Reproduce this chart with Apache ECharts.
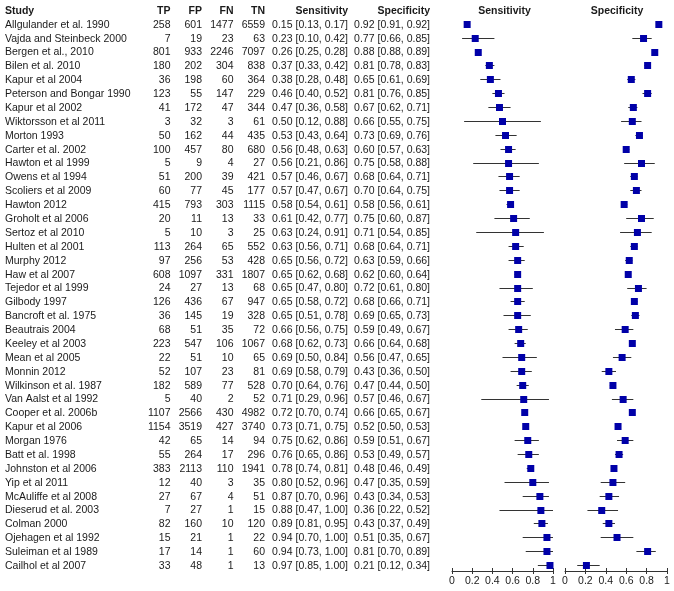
<!DOCTYPE html>
<html><head><meta charset="utf-8">
<script src="https://cdn.jsdelivr.net/npm/echarts@6/dist/echarts.min.js"></script>
<style>html,body{margin:0;padding:0;background:#fff}#c{width:674px;height:591px}</style>
</head><body><div id="c"></div>
<script>
const studies = ['Allgulander et al. 1990','Vajda and Steinbeck 2000','Bergen et al., 2010','Bilen et al. 2010','Kapur et al 2004','Peterson and Bongar 1990','Kapur et al 2002','Wiktorsson et al 2011','Morton 1993','Carter et al. 2002','Hawton et al 1999','Owens et al 1994','Scoliers et al 2009','Hawton 2012','Groholt et al 2006','Sertoz et al 2010','Hulten et al 2001','Murphy 2012','Haw et al 2007','Tejedor et al 1999','Gilbody 1997','Bancroft et al. 1975','Beautrais 2004','Keeley et al 2003','Mean et al 2005','Monnin 2012','Wilkinson et al. 1987','Van Aalst et al 1992','Cooper et al. 2006b','Kapur et al 2006','Morgan 1976','Batt et al. 1998','Johnston et al 2006','Yip et al 2011','McAuliffe et al 2008','Dieserud et al. 2003','Colman 2000','Ojehagen et al 1992','Suleiman et al 1989','Cailhol et al 2007'];
const tp = [258,7,801,180,36,123,41,3,50,100,5,51,60,415,20,5,113,97,608,24,126,36,68,223,22,52,182,5,1107,1154,42,55,383,12,27,7,82,15,17,33];
const fp = [601,19,933,202,198,55,172,32,162,457,9,200,77,793,11,10,264,256,1097,27,436,145,51,547,51,107,589,40,2566,3519,65,264,2113,40,67,27,160,21,14,48];
const fn = [1477,23,2246,304,60,147,47,3,44,80,4,39,45,303,13,3,65,53,331,13,67,19,35,106,10,23,77,2,430,427,14,17,110,3,4,1,10,1,1,1];
const tn = [6559,63,7097,838,364,229,344,61,435,680,27,421,177,1115,33,25,552,428,1807,68,947,328,72,1067,65,81,528,52,4982,3740,94,296,1941,35,51,15,120,22,60,13];
const sens = [0.15,0.23,0.26,0.37,0.38,0.46,0.47,0.50,0.53,0.56,0.56,0.57,0.57,0.58,0.61,0.63,0.63,0.65,0.65,0.65,0.65,0.65,0.66,0.68,0.69,0.69,0.70,0.71,0.72,0.73,0.75,0.76,0.78,0.80,0.87,0.88,0.89,0.94,0.94,0.97];
const sensLo = [0.13,0.10,0.25,0.33,0.28,0.40,0.36,0.12,0.43,0.48,0.21,0.46,0.47,0.54,0.42,0.24,0.56,0.56,0.62,0.47,0.58,0.51,0.56,0.62,0.50,0.58,0.64,0.29,0.70,0.71,0.62,0.65,0.74,0.52,0.70,0.47,0.81,0.70,0.73,0.85];
const sensHi = [0.17,0.42,0.28,0.42,0.48,0.52,0.58,0.88,0.64,0.63,0.86,0.67,0.67,0.61,0.77,0.91,0.71,0.72,0.68,0.80,0.72,0.78,0.75,0.73,0.84,0.79,0.76,0.96,0.74,0.75,0.86,0.86,0.81,0.96,0.96,1.00,0.95,1.00,1.00,1.00];
const spec = [0.92,0.77,0.88,0.81,0.65,0.81,0.67,0.66,0.73,0.60,0.75,0.68,0.70,0.58,0.75,0.71,0.68,0.63,0.62,0.72,0.68,0.69,0.59,0.66,0.56,0.43,0.47,0.57,0.66,0.52,0.59,0.53,0.48,0.47,0.43,0.36,0.43,0.51,0.81,0.21];
const specLo = [0.91,0.66,0.88,0.78,0.61,0.76,0.62,0.55,0.69,0.57,0.58,0.64,0.64,0.56,0.60,0.54,0.64,0.59,0.60,0.61,0.66,0.65,0.49,0.64,0.47,0.36,0.44,0.46,0.65,0.50,0.51,0.49,0.46,0.35,0.34,0.22,0.37,0.35,0.70,0.12];
const specHi = [0.92,0.85,0.89,0.83,0.69,0.85,0.71,0.75,0.76,0.63,0.88,0.71,0.75,0.61,0.87,0.85,0.71,0.66,0.64,0.80,0.71,0.73,0.67,0.68,0.65,0.50,0.50,0.67,0.67,0.53,0.67,0.57,0.49,0.59,0.53,0.52,0.49,0.67,0.89,0.34];
const countCols = ['TP','FP','FN','TN'];
const ciCols = ['Sensitivity','Specificity'];
const axisTicks = ['0','0.2','0.4','0.6','0.8','1'];

const FONT = '"Liberation Sans", Arial, sans-serif';
const FS = 10.5;
const TXT = '#1a1a1a';
const rows = ['Study'].concat(studies);

const countTexts = [], countData = [];
countCols.forEach((h, c) => { countData.push([c, 0]); countTexts.push({t: h, b: true}); });
[tp, fp, fn, tn].forEach((arr, c) => arr.forEach((v, i) => { countData.push([c, i + 1]); countTexts.push({t: String(v), b: false}); }));
const ciTexts = [], ciData = [];
ciCols.forEach((h, c) => { ciData.push([c, 0]); ciTexts.push({t: h, b: true}); });
const f2 = v => v.toFixed(2);
[[sens, sensLo, sensHi], [spec, specLo, specHi]].forEach((set, c) => set[0].forEach((v, i) => {
  ciData.push([c, i + 1]); ciTexts.push({t: f2(v) + ' [' + f2(set[1][i]) + ', ' + f2(set[2][i]) + ']', b: false});
}));

function textRenderer(texts) {
  return function (params, api) {
    const p = api.coord([api.value(0), api.value(1)]);
    const w = api.size([1, 0])[0];
    const it = texts[params.dataIndex];
    return {type: 'text', style: {x: p[0] + w / 2, y: p[1], text: it.t, align: 'right', verticalAlign: 'middle',
      fontSize: FS, fontFamily: FONT, fontWeight: it.b ? 'bold' : 'normal', fill: TXT}};
  };
}
function forestRenderer(params, api) {
  const row = api.value(3);
  const p = api.coord([api.value(0), row]);
  const l = api.coord([api.value(1), row]);
  const h = api.coord([api.value(2), row]);
  const y = Math.round(p[1]) - 0.5;
  return {type: 'group', children: [
    {type: 'line', shape: {x1: l[0], y1: y, x2: h[0], y2: y}, style: {stroke: '#333', lineWidth: 1}},
    {type: 'rect', shape: {x: p[0] - 3.5, y: y - 3.5, width: 7, height: 7}, style: {fill: '#0000a8'}}
  ]};
}
function headerRenderer(title) {
  return function (params, api) {
    const p = api.coord([api.value(0), api.value(1)]);
    return {type: 'text', style: {x: p[0], y: p[1], text: title, align: 'center', verticalAlign: 'middle',
      fontSize: FS, fontFamily: FONT, fontWeight: 'bold', fill: TXT}};
  };
}
const forestData = (e, lo, hi) => e.map((v, i) => [v, lo[i], hi[i], i + 1]);

const TOP = 4, H = 569;
const grids = [
  {left: 139, top: TOP, width: 126, height: H},
  {left: 266, top: TOP, width: 164, height: H},
  {left: 452, top: TOP, width: 101, height: H},
  {left: 565, top: TOP, width: 102, height: H}
];
const valAxis = (gi) => ({type: 'value', gridIndex: gi, min: 0, max: 1, interval: 0.2, offset: -2,
  axisLine: {show: true, lineStyle: {color: '#333', width: 1}},
  axisTick: {show: true, length: 3, lineStyle: {color: '#333'}},
  splitLine: {show: false},
  axisLabel: {margin: 5, fontSize: FS, fontFamily: FONT, color: TXT, formatter: (v) => axisTicks[Math.round(v * 5)]}});
const innerAxis = (gi) => ({type: 'value', gridIndex: gi, min: 0, max: 1, interval: 0.2, position: 'bottom', offset: -2,
  axisLine: {show: false}, axisTick: {show: true, inside: true, length: 3, lineStyle: {color: '#333'}},
  splitLine: {show: false}, axisLabel: {show: false}});
const catY = (gi, show) => ({type: 'category', gridIndex: gi, data: rows, inverse: true, boundaryGap: true,
  axisLine: {show: false}, axisTick: {show: false}, splitLine: {show: false},
  axisLabel: show ? {show: true, interval: 0, align: 'left', margin: 134, fontSize: FS, fontFamily: FONT, color: TXT,
    formatter: (v, i) => i === 0 ? '{b|' + v + '}' : v, rich: {b: {fontWeight: 'bold', fontSize: FS, fontFamily: FONT, color: TXT}}} : {show: false}});

const chart = echarts.init(document.getElementById('c'), null, {renderer: 'canvas'});
chart.setOption({
  animation: false,
  grid: grids,
  xAxis: [
    {type: 'category', gridIndex: 0, data: countCols, show: false},
    {type: 'category', gridIndex: 1, data: ciCols, show: false},
    valAxis(2), valAxis(3), innerAxis(2), innerAxis(3)
  ],
  yAxis: [catY(0, true), catY(1, false), catY(2, false), catY(3, false)],
  series: [
    {type: 'custom', xAxisIndex: 0, yAxisIndex: 0, data: countData, renderItem: textRenderer(countTexts)},
    {type: 'custom', xAxisIndex: 1, yAxisIndex: 1, data: ciData, renderItem: textRenderer(ciTexts)},
    {type: 'custom', xAxisIndex: 2, yAxisIndex: 2, data: forestData(sens, sensLo, sensHi), renderItem: forestRenderer},
    {type: 'custom', xAxisIndex: 3, yAxisIndex: 3, data: forestData(spec, specLo, specHi), renderItem: forestRenderer},
    {type: 'custom', xAxisIndex: 2, yAxisIndex: 2, data: [[0.52, 0]], renderItem: headerRenderer('Sensitivity')},
    {type: 'custom', xAxisIndex: 3, yAxisIndex: 3, data: [[0.51, 0]], renderItem: headerRenderer('Specificity')}
  ]
});
</script></body></html>
